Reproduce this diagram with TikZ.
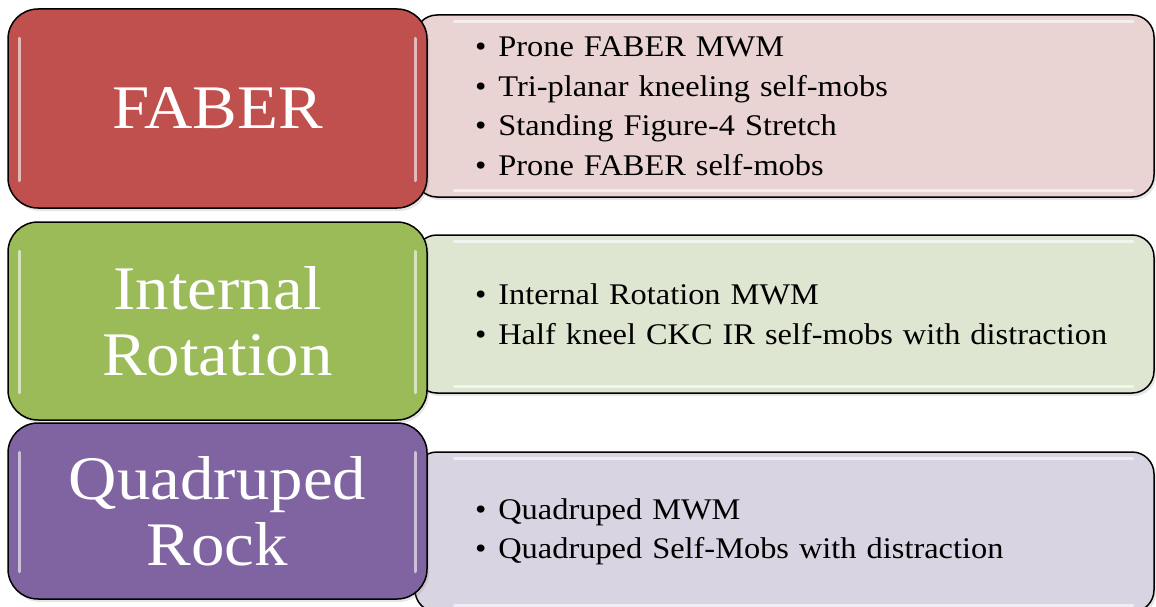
\documentclass[tikz,border=0pt]{standalone}
\usepackage{fontspec}
\setmainfont{Liberation Serif}[FakeStretch=1.08]
\usetikzlibrary{shadows}
\definecolor{faberred}{RGB}{192, 80, 77}
\definecolor{irgreen}{RGB}{155, 187, 89}
\definecolor{quadpurple}{RGB}{128, 100, 162}
\definecolor{faberlight}{RGB}{233, 212, 211}
\definecolor{irlight}{RGB}{222, 230, 210}
\definecolor{quadlight}{RGB}{217, 212, 225}
\tikzset{
    titlebox/.style={rectangle, rounded corners=30pt, draw=black, line width=1.5pt,
                     minimum width=419pt, text=white, align=center,
                     font=\fontsize{62}{66}\selectfont,
                     drop shadow={opacity=0.2, shadow xshift=2pt, shadow yshift=-3pt}},
    listbox/.style={rectangle, rounded corners=22pt, draw=black, line width=1.5pt,
                    text width=619pt, inner xsep=60pt, inner ysep=0pt, align=left,
                    font=\fontsize{30}{39.5}\selectfont,
                    drop shadow={opacity=0.2, shadow xshift=2pt, shadow yshift=-3pt}},
    gloss/.style={white, line width=3pt, line cap=round, opacity=0.6},
}
\newcommand{\bul}[1]{\mbox{\textbullet\hspace{12pt}#1}}

\begin{document}
\begin{tikzpicture}[x=1pt, y=-1pt]
    \useasboundingbox (0,0) rectangle (1156,607);

    % exercise lists, behind the titles
    \node[listbox, fill=faberlight, minimum height=182pt] (faberlist) at (784.5,106)
        {\bul{Prone FABER MWM}\\ \bul{Tri-planar kneeling self-mobs}\\
         \bul{Standing Figure-4 Stretch}\\ \bul{Prone FABER self-mobs}};
    \node[listbox, fill=irlight, minimum height=158pt] (irlist) at (784.5,314)
        {\bul{Internal Rotation MWM}\\ \bul{Half kneel CKC IR self-mobs with distraction}};
    \node[listbox, fill=quadlight, minimum height=160pt] (quadlist) at (784.5,532)
        {\bul{Quadruped MWM}\\ \bul{Quadruped Self-Mobs with distraction}};

    \foreach \n in {faberlist, irlist, quadlist} {
        \draw[gloss] ([xshift=40pt, yshift=-7pt]\n.north west) -- ([xshift=-22pt, yshift=-7pt]\n.north east);
        \draw[gloss] ([xshift=40pt, yshift=7pt]\n.south west) -- ([xshift=-22pt, yshift=7pt]\n.south east);
    }

    % titles
    \node[titlebox, fill=faberred, minimum height=199pt] (faber) at (217.5,108.5) {FABER};
    \node[titlebox, fill=irgreen, minimum height=198pt] (ir) at (217.5,321) {Internal\\Rotation};
    \node[titlebox, fill=quadpurple, minimum height=176pt] (quad) at (217.5,511) {Quadruped\\Rock};

    \foreach \n in {faber, ir, quad} {
        \draw[gloss] ([xshift=12pt, yshift=-30pt]\n.north west) -- ([xshift=12pt, yshift=28pt]\n.south west);
        \draw[gloss] ([xshift=-12pt, yshift=-30pt]\n.north east) -- ([xshift=-12pt, yshift=28pt]\n.south east);
    }
\end{tikzpicture}
\end{document}
